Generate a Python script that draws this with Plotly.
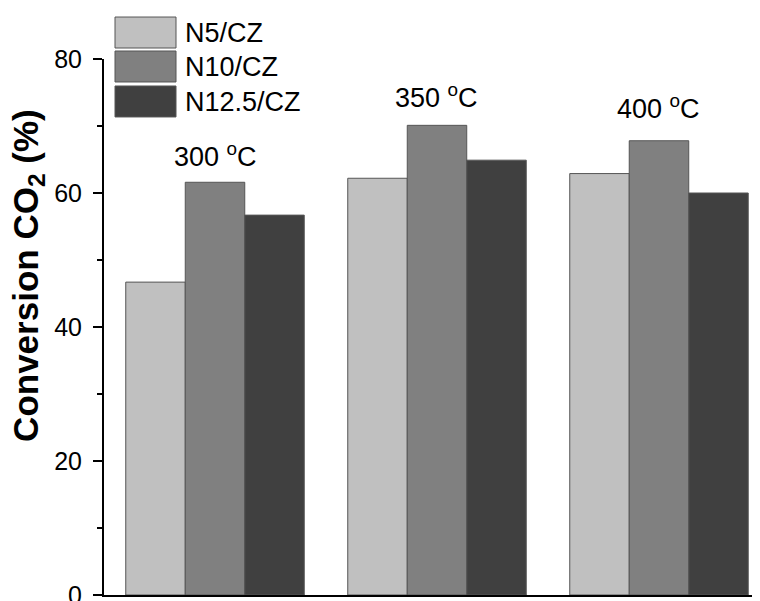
import plotly.graph_objects as go

categories = ["300 °C", "350 °C", "400 °C"]
cat_labels = ["300 <sup>o</sup>C", "350 <sup>o</sup>C", "400 <sup>o</sup>C"]
series_names = ["N5/CZ", "N10/CZ", "N12.5/CZ"]
n5 = [46.7, 62.2, 62.9]
n10 = [61.6, 70.1, 67.8]
n125 = [56.7, 64.9, 60.0]
label_heights = [65.7, 74.5, 72.9]
colors = ["#c0c0c0", "#808080", "#404040"]

FONT = "Liberation Sans, Arial, sans-serif"

# page body has an 8px margin; work in window pixels and convert
OFF = 8
L, T, B = 104 - OFF, 59 - OFF, 595.3 - OFF
R = 760 - OFF
plot_h = B - T
plot_w = R - L


def py(pix):
    return (B - (pix - OFF)) / plot_h


def px(pix):
    return ((pix - OFF) - L) / plot_w


fig = go.Figure()
for name, vals, col in zip(series_names, [n5, n10, n125], colors):
    fig.add_trace(go.Bar(
        x=categories, y=vals, name=name,
        marker=dict(color=col, line=dict(color="#555555", width=1)),
        showlegend=False,
    ))

# category temperature labels
for cat, lab, h in zip(categories, cat_labels, label_heights):
    fig.add_annotation(x=cat, y=h, xref="x", yref="y", text=lab, showarrow=False,
                       font=dict(family=FONT, size=27, color="black"))

# legend with large swatches
tops = [17, 51, 86]
for name, col, t in zip(series_names, colors, tops):
    fig.add_shape(type="rect", xref="paper", yref="paper",
                  x0=px(115), x1=px(176), y0=py(t + 31), y1=py(t),
                  fillcolor=col, line=dict(color="#555555", width=1))
    fig.add_annotation(xref="paper", yref="paper", x=px(183), y=py(t + 16),
                       text=name, showarrow=False, xanchor="left", yanchor="middle",
                       font=dict(family=FONT, size=27, color="black"))

# y-axis title
fig.add_annotation(xref="paper", yref="paper", x=px(28), y=py(276),
                   text="<b>Conversion CO<sub>2</sub> (%)</b>", textangle=-90,
                   showarrow=False, xanchor="center", yanchor="middle",
                   font=dict(family=FONT, size=35, color="black"))

fig.update_layout(
    width=760, height=601,
    margin=dict(l=L, r=760 - R, t=T, b=601 - B, autoexpand=False),
    paper_bgcolor="white", plot_bgcolor="white",
    barmode="group", bargap=0.196, bargroupgap=0,
    font=dict(family=FONT, color="black"),
    xaxis=dict(range=[-0.5, 2.455], showticklabels=False, ticks="",
               showline=True, linecolor="black", linewidth=2, showgrid=False,
               zeroline=False, automargin=False),
    yaxis=dict(range=[0, 80], tickvals=[0, 20, 40, 60, 80], ticks="outside",
               ticklen=9, tickwidth=2, tickcolor="black", ticklabelstandoff=6,
               minor=dict(tickvals=[10, 30, 50, 70], ticks="outside", ticklen=5,
                          tickwidth=2, tickcolor="black"),
               showline=True, linecolor="black", linewidth=2, showgrid=False,
               zeroline=False, automargin=False,
               tickfont=dict(family=FONT, size=25)),
)

fig.write_html("out.html")
